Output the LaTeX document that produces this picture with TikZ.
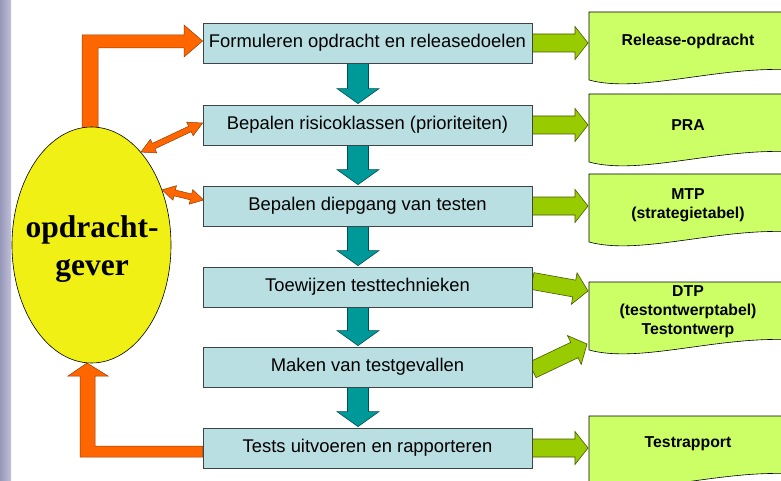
\documentclass[tikz,border=0pt]{standalone}
\usepackage{fontspec}
\setmainfont{Liberation Sans}
\newfontfamily\ogfont{Liberation Serif}
\usetikzlibrary{calc,shapes.geometric,backgrounds}
\definecolor{boxfill}{RGB}{185,223,227}
\definecolor{boxline}{RGB}{60,70,70}
\definecolor{docfill}{RGB}{204,255,102}
\definecolor{grn}{RGB}{153,204,0}
\definecolor{grnline}{RGB}{70,90,0}
\definecolor{org}{RGB}{255,102,0}
\definecolor{orgline}{RGB}{150,60,0}
\definecolor{tealf}{RGB}{0,153,153}
\definecolor{tealline}{RGB}{0,80,80}
\definecolor{ylw}{RGB}{240,240,20}
\definecolor{stripA}{RGB}{150,150,185}
\definecolor{stripB}{RGB}{192,192,215}
\tikzset{
  procbox/.style={draw=boxline, fill=boxfill, minimum width=329pt, minimum height=40pt, inner sep=0pt, font=\fontsize{18.4}{22}\selectfont, line width=0.8pt},
  doctext/.style={font=\fontsize{15.8}{19}\selectfont\bfseries, align=center},
  docshape/.style={draw=black, fill=docfill, line width=0.6pt},
  garrow/.style={fill=grn, draw=grnline, line width=0.6pt, line join=miter},
  oarrow/.style={fill=org, draw=orgline, line width=0.5pt, line join=miter},
  tarrow/.style={fill=tealf, draw=tealline, line width=0.6pt, line join=miter},
}
\newcommand{\blockarrow}[6]{% style, from, to, half shaft, half head, head length
  \coordinate (bah) at ($(#3)!#6!(#2)$);
  \draw[#1] ($(#2)!#4!90:(#3)$) -- ($(bah)!#4!90:(#3)$) -- ($(bah)!#5!90:(#3)$) -- (#3)
    -- ($(bah)!#5!-90:(#3)$) -- ($(bah)!#4!-90:(#3)$) -- ($(#2)!#4!-90:(#3)$) -- cycle;
}
\newcommand{\dblarrow}[6]{% style, from, to, half shaft, half head, head length
  \coordinate (dha) at ($(#2)!#6!(#3)$);
  \coordinate (dhb) at ($(#3)!#6!(#2)$);
  \draw[#1] (#2) -- ($(dha)!#5!90:(#3)$) -- ($(dha)!#4!90:(#3)$) -- ($(dhb)!#4!90:(#3)$)
    -- ($(dhb)!#5!90:(#3)$) -- (#3) -- ($(dhb)!#5!-90:(#3)$) -- ($(dhb)!#4!-90:(#3)$)
    -- ($(dha)!#4!-90:(#3)$) -- ($(dha)!#5!-90:(#3)$) -- cycle;
}
\newcommand{\docpath}[1]{%
  \draw[docshape] (589,#1) -- (795,#1) -- (795,{#1+58}) .. controls (720,{#1+53}) and (640,{#1+82}) .. (589,{#1+68}) -- cycle;
}
\begin{document}
\begin{tikzpicture}[x=1pt,y=-1pt]
\useasboundingbox (0,0) rectangle (781,481);
\clip (0,0) rectangle (781,481);
\fill[left color=stripA, right color=stripB] (0,0) rectangle (11,481);

% process boxes
\node[procbox] (b1) at (367.5,43) {Formuleren opdracht en releasedoelen};
\node[procbox] (b2) at (367.5,125) {Bepalen risicoklassen (prioriteiten)};
\node[procbox] (b3) at (367.5,206) {Bepalen diepgang van testen};
\node[procbox] (b4) at (367.5,287) {Toewijzen testtechnieken};
\node[procbox] (b5) at (367.5,367) {Maken van testgevallen};
\node[procbox] (b6) at (367.5,448) {Tests uitvoeren en rapporteren};

% client ellipse
\node[ellipse, draw=black, fill=ylw, minimum width=159pt, minimum height=236pt, inner sep=0pt, line width=0.6pt] (og) at (91.5,245) {};
\node[font=\ogfont\bfseries\fontsize{31.5}{38}\selectfont, align=center] (ogt) at (92,249) {opdracht-\\gever};

% documents
\docpath{12}
\docpath{94}
\docpath{174}
\docpath{282}
\docpath{416}
\node[doctext] (d1) at (688,41) {Release-opdracht};
\node[doctext] (d2) at (688,125) {PRA};
\node[doctext] (d3) at (688,205) {MTP\\(strategietabel)};
\node[doctext] (d4) at (688,312) {DTP\\(testontwerptabel)\\Testontwerp};
\node[doctext] (d5) at (688,444) {Testrapport};

\begin{scope}[on background layer]
  % teal flow arrows
  \foreach \i/\j in {1/2,2/3,3/4,4/5,5/6} {
    \coordinate (ta\i) at ([xshift=-9.5pt]b\i.south);
    \coordinate (tb\i) at ([xshift=-9.5pt,yshift=1pt]b\j.north);
    \blockarrow{tarrow}{ta\i}{tb\i}{10.5pt}{21pt}{15pt}
  }
  % green output arrows
  \coordinate (g1) at (588,43);
  \coordinate (g2) at (588,125);
  \coordinate (g3) at (588,206);
  \coordinate (g6) at (588,448);
  \coordinate (g4t) at ([yshift=6pt]b4.east);
  \coordinate (g4) at (588,291);
  \coordinate (g5t) at ([yshift=-3pt]b5.east);
  \coordinate (g5) at (587,344);
  \blockarrow{garrow}{b1.east}{g1}{9pt}{16.5pt}{13pt}
  \blockarrow{garrow}{b2.east}{g2}{9pt}{16.5pt}{13pt}
  \blockarrow{garrow}{b3.east}{g3}{9pt}{16.5pt}{13pt}
  \blockarrow{garrow}{b6.east}{g6}{9pt}{16.5pt}{13pt}
  \blockarrow{garrow}{g4t}{g4}{8.5pt}{16pt}{14pt}
  \blockarrow{garrow}{g5t}{g5}{8.5pt}{16pt}{14pt}
  % orange arrows
  \coordinate (o2) at ([yshift=2pt]b2.west);
  \coordinate (o3) at ([xshift=1pt,yshift=6pt]b3.west);
  \dblarrow{oarrow}{og.62}{o2}{3pt}{7.5pt}{14pt}
  \dblarrow{oarrow}{og.38}{o3}{3pt}{7.5pt}{13pt}
  \draw[oarrow] (82,136) -- (82,35) -- (184,35) -- (184,25) -- (b1.west |- 0,41) -- (184,57) -- (184,48) -- (98,48) -- (98,136) -- cycle;
  \draw[oarrow] (87,363) -- (108,376) -- (95,376) -- (95,446) -- (b6.west |- 0,446) -- (b6.west |- 0,457) -- (80,457) -- (80,376) -- (68,376) -- cycle;
\end{scope}
\end{tikzpicture}
\end{document}
